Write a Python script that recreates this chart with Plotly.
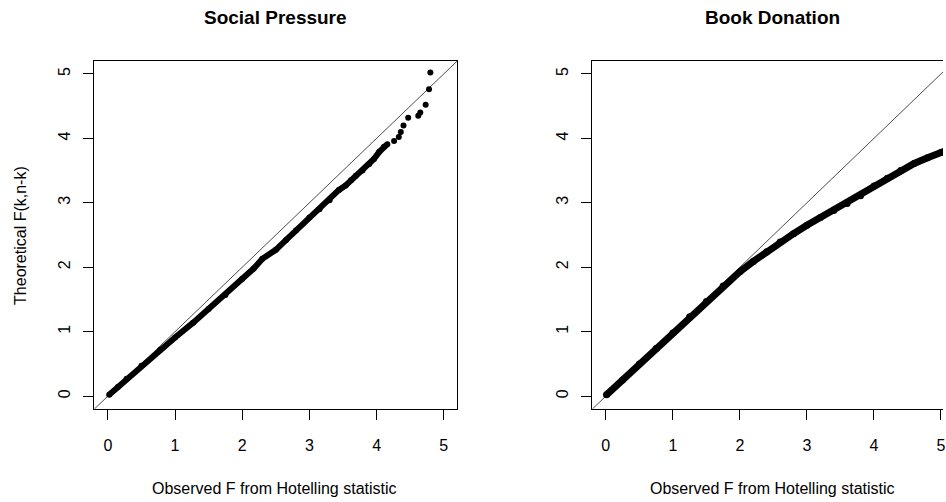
import plotly.graph_objects as go

# ---------------- data ----------------
AXIS_LIMITS = [-0.2, 5.2]
TICKS = [0, 1, 2, 3, 4, 5]
TICK_LABELS = ["0", "1", "2", "3", "4", "5"]

# Social Pressure: dense part of the QQ band
social_obs_dense = [0.02, 0.15, 0.28, 0.50, 0.78, 1.00, 1.27, 1.50, 1.75, 2.00,
                    2.17, 2.30, 2.50, 2.65, 2.80, 3.00, 3.15, 3.30, 3.44, 3.54,
                    3.62, 3.69, 3.79, 3.89, 3.96, 4.04, 4.11, 4.16]
social_theo_dense = [0.02, 0.14, 0.27, 0.47, 0.72, 0.91, 1.14, 1.35, 1.57, 1.82,
                     1.98, 2.13, 2.27, 2.42, 2.57, 2.77, 2.90, 3.04, 3.20, 3.27,
                     3.35, 3.42, 3.50, 3.60, 3.68, 3.79, 3.87, 3.91]
# Social Pressure: sparse upper tail
social_obs_tail = [4.26, 4.33, 4.36, 4.40, 4.47, 4.62, 4.65, 4.73, 4.78, 4.80]
social_theo_tail = [3.96, 4.02, 4.10, 4.20, 4.32, 4.35, 4.40, 4.52, 4.76, 5.02]

# Book Donation
book_obs = [0.01, 0.25, 0.50, 0.75, 1.00, 1.25, 1.50, 1.75, 2.00, 2.20, 2.40,
            2.60, 2.80, 3.00, 3.20, 3.40, 3.60, 3.80, 4.00, 4.20, 4.40, 4.60,
            4.80, 5.00, 5.10, 5.20]
book_theo = [0.02, 0.25, 0.50, 0.74, 0.98, 1.23, 1.47, 1.71, 1.93, 2.09, 2.24,
             2.39, 2.52, 2.65, 2.77, 2.88, 2.99, 3.11, 3.26, 3.38, 3.50, 3.61,
             3.70, 3.78, 3.82, 3.86]

TITLES = ["Social Pressure", "Book Donation"]
X_TITLE = "Observed F from Hotelling statistic"
Y_TITLE = "Theoretical F(k,n-k)"

# ---------------- figure ----------------
W, H = 946, 502
FONT = "Liberation Sans, Arial, sans-serif"

fig = go.Figure()

# reference y = x lines
for xa, ya in (("x", "y"), ("x2", "y2")):
    fig.add_trace(go.Scatter(x=AXIS_LIMITS, y=AXIS_LIMITS, mode="lines",
                             line=dict(color="#4d4d4d", width=1),
                             xaxis=xa, yaxis=ya, showlegend=False, hoverinfo="skip"))

# Social Pressure points
fig.add_trace(go.Scatter(x=social_obs_dense, y=social_theo_dense, mode="lines+markers",
                         line=dict(color="black", width=6),
                         marker=dict(color="black", size=6),
                         xaxis="x", yaxis="y", showlegend=False))
fig.add_trace(go.Scatter(x=social_obs_tail, y=social_theo_tail, mode="markers",
                         marker=dict(color="black", size=6),
                         xaxis="x", yaxis="y", showlegend=False))

# Book Donation points
fig.add_trace(go.Scatter(x=book_obs, y=book_theo, mode="lines+markers",
                         line=dict(color="black", width=7),
                         marker=dict(color="black", size=7),
                         xaxis="x2", yaxis="y2", showlegend=False))

def px_x(p):
    return p / W

def px_y(p):
    return 1 - p / H

ydom = [px_y(409), px_y(61)]

common_x = dict(tickmode="array", tickvals=TICKS, ticktext=TICK_LABELS,
                ticks="outside", ticklen=10, tickcolor="black", tickwidth=1,
                ticklabelstandoff=12, ticklabeloverflow="allow",
                showgrid=False, zeroline=False, showline=True, linecolor="black",
                linewidth=1, tickfont=dict(family=FONT, size=16, color="black"),
                fixedrange=True)
common_y = dict(tickmode="array", tickvals=TICKS, ticktext=TICK_LABELS,
                ticks="outside", ticklen=10, tickcolor="black", tickwidth=1,
                ticklabelstandoff=7,
                showgrid=False, zeroline=False, showline=True, linecolor="black",
                linewidth=1, tickangle=-90,
                tickfont=dict(family=FONT, size=16, color="black"),
                fixedrange=True, range=AXIS_LIMITS, domain=ydom)

fig.update_layout(
    width=W, height=H,
    margin=dict(l=0, r=0, t=0, b=0),
    paper_bgcolor="white", plot_bgcolor="white",
    xaxis=dict(common_x, domain=[px_x(94.7), px_x(458.7)], range=AXIS_LIMITS,
               anchor="y", mirror=True),
    yaxis=dict(common_y, anchor="x", mirror=True),
    xaxis2=dict(common_x, domain=[px_x(594.3), 1.0], range=[AXIS_LIMITS[0], 5.03],
                anchor="y2", mirror=True),
    yaxis2=dict(common_y, anchor="x2", mirror=False),
    font=dict(family=FONT, color="black"),
    hovermode=False,
)

annotations = [
    dict(text="<b>" + TITLES[0] + "</b>", x=px_x(276.7), y=px_y(17.3),
         font=dict(size=19, family=FONT, color="black")),
    dict(text="<b>" + TITLES[1] + "</b>", x=px_x(774.5), y=px_y(17.3),
         font=dict(size=19, family=FONT, color="black")),
    dict(text=X_TITLE, x=px_x(275.5), y=px_y(488),
         font=dict(size=16, family=FONT, color="black")),
    dict(text=X_TITLE, x=px_x(774.5), y=px_y(488),
         font=dict(size=16, family=FONT, color="black")),
    dict(text=Y_TITLE, x=px_x(20), y=px_y(235), textangle=-90,
         font=dict(size=16, family=FONT, color="black")),
]
for a in annotations:
    a.update(xref="paper", yref="paper", showarrow=False,
             xanchor="center", yanchor="middle")
fig.update_layout(annotations=annotations)

# remove the default 8px page margin so the figure sits at the window's corner
fig.write_html("out.html",
               config={"displayModeBar": False, "staticPlot": True},
               post_script="document.body.style.margin='0';document.body.style.overflow='hidden';")
